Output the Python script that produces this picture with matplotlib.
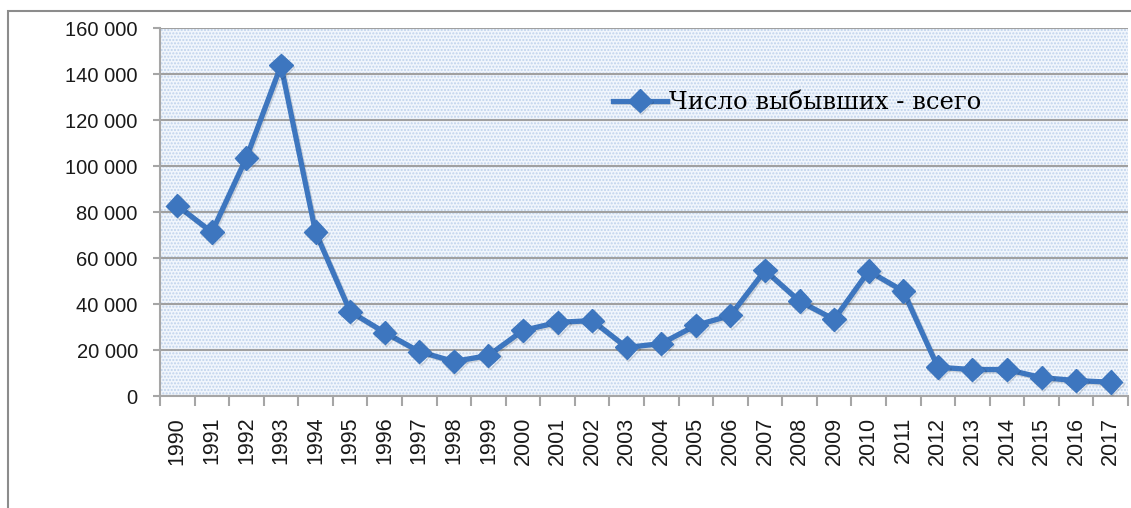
import matplotlib
matplotlib.use("Agg")
import matplotlib.pyplot as plt
from matplotlib.patches import Rectangle
import matplotlib.patheffects as pe

years = [str(y) for y in range(1990, 2018)]
values = [82800, 71200, 103600, 143700, 71200, 36700, 27600, 19300, 15000, 17600,
          28500, 32000, 32800, 21100, 22800, 30700, 35000, 54600, 41200, 33300,
          54300, 45600, 12500, 11500, 11500, 8000, 6700, 6000]
yticks = [0, 20000, 40000, 60000, 80000, 100000, 120000, 140000, 160000]
ytick_labels = ["0", "20 000", "40 000", "60 000", "80 000", "100 000",
                "120 000", "140 000", "160 000"]
series_name = "Число выбывших - всего"

plt.rcParams['hatch.color'] = '#b9cde8'
plt.rcParams['hatch.linewidth'] = 1.0

fig = plt.figure(figsize=(11.31, 5.08), dpi=100)
fig.patch.set_facecolor('white')

# outer frame
fig.add_artist(Rectangle((8 / 1131, -0.1), 1.2, 1 - 11 / 508 + 0.1,
                         transform=fig.transFigure, fill=False,
                         edgecolor='#8c8c8c', linewidth=1.5))

ax = fig.add_axes([160 / 1131, 1 - 396 / 508, (1128 - 160) / 1131, (396 - 28) / 508])
ax.set_facecolor('white')
bg = Rectangle((0, 0), 1, 1, transform=ax.transAxes, facecolor='#f1f6fc',
               hatch='.....', edgecolor='#bfd2ec', linewidth=0, zorder=0)
ax.add_patch(bg)

x = list(range(len(years)))
line, = ax.plot(x, values, color='#3d76bf', linewidth=3.8, marker='D',
                markersize=12, markerfacecolor='#3d76bf', markeredgecolor='#3d76bf',
                zorder=5, label=series_name, solid_joinstyle='round',
                path_effects=[pe.SimpleLineShadow(offset=(1, -1), alpha=0.12),
                              pe.Normal()])

ax.set_xlim(-0.5, len(years) - 0.5)
ax.set_ylim(0, 160000)
ax.set_yticks(yticks)
ax.set_yticklabels(ytick_labels, fontsize=14.5, family='Liberation Sans', color='#1a1a1a')
ax.set_xticks(x)
ax.set_xticklabels(years, rotation=90, fontsize=15.5, family='Liberation Sans', color='#1a1a1a')
ax.tick_params(axis='x', length=0, pad=15)
ax.set_xticks([i - 0.5 for i in range(len(years) + 1)], minor=True)
ax.tick_params(axis='x', which='minor', length=7, width=1.5, color='#a6a6a6')
ax.tick_params(axis='y', length=5, width=1.5, color='#a6a6a6', pad=11)

ax.grid(axis='y', color='#a0a0a0', linewidth=1.5, zorder=1)
ax.set_axisbelow(True)
for s in ['top', 'right']:
    ax.spines[s].set_visible(False)
for s in ['left', 'bottom']:
    ax.spines[s].set_color('#a6a6a6')
    ax.spines[s].set_linewidth(1.5)

leg = ax.legend(loc='center left', bbox_to_anchor=(0.458, 0.797), frameon=False,
                prop={'family': 'DejaVu Serif', 'size': 17.5},
                handlelength=2.2, handletextpad=0.1, borderaxespad=0)

fig.savefig('out.png', dpi=100)
